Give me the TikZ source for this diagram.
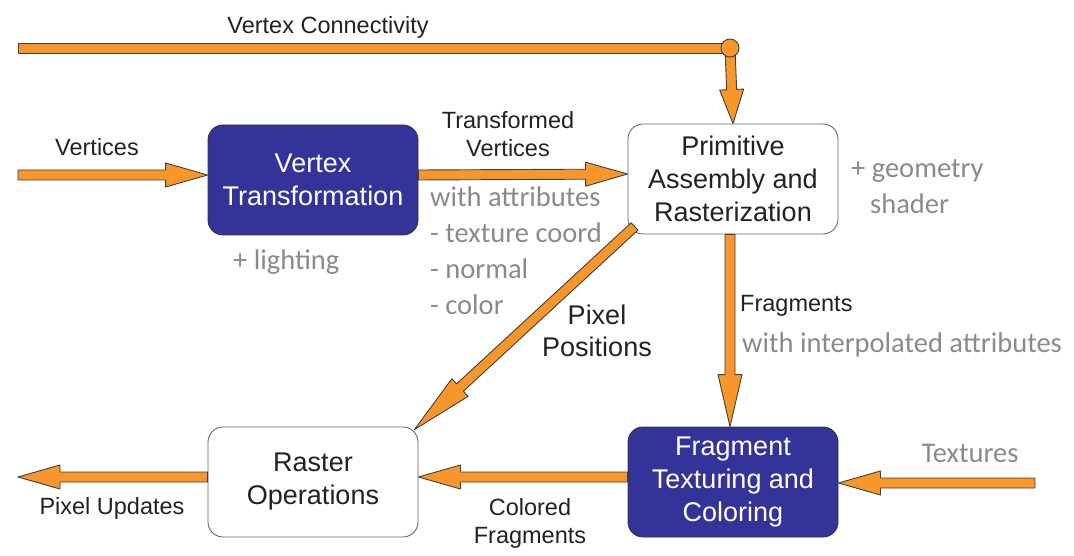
\documentclass[tikz,border=0pt]{standalone}
\usepackage{fontspec}
\setmainfont{Liberation Sans}
\newfontfamily\grayfont{Carlito}
\usetikzlibrary{calc}
\definecolor{arroworange}{HTML}{F7962A}
\definecolor{boxblue}{HTML}{333399}
\definecolor{graytext}{HTML}{8A8A8A}
\definecolor{darktext}{HTML}{222222}
\tikzset{
  blockarrow/.style={draw=black!75, fill=arroworange, line width=0.9pt, line join=round},
  procbox/.style={rounded corners=15pt, minimum width=210pt, minimum height=110pt, align=center, line width=0.9pt, font=\fontsize{27}{33}\selectfont},
  bluebox/.style={procbox, draw=black!80, fill=boxblue, text=white},
  whitebox/.style={procbox, draw=black!60, fill=white, text=darktext},
  lbl/.style={text=darktext, align=center, inner sep=0pt, font=\fontsize{23.5}{28}\selectfont},
  biglbl/.style={text=darktext, align=center, inner sep=0pt, font=\fontsize{27}{32}\selectfont},
  glbl/.style={text=graytext, align=left, inner sep=0pt, font=\grayfont\fontsize{28.5}{36}\selectfont},
}
% block arrow: #1 start, #2 end, #3 head length
\newcommand\barrow[3]{%
  \coordinate (bA) at (#1);
  \coordinate (bB) at (#2);
  \coordinate (bH) at ($(bB)!#3!(bA)$);
  \draw[blockarrow] ($(bA)!5pt!90:(bB)$) -- ($(bH)!5pt!-90:(bA)$) -- ($(bH)!12pt!-90:(bA)$) -- (bB)
     -- ($(bH)!12pt!90:(bA)$) -- ($(bH)!5pt!90:(bA)$) -- ($(bA)!5pt!-90:(bB)$) -- cycle;
}
\begin{document}
\begin{tikzpicture}[x=1pt,y=-1pt]
\useasboundingbox[fill=white] (0,0) rectangle (1074,556);

% boxes
\node[bluebox]  (vt)     at (313,180) {Vertex\\Transformation};
\node[whitebox] (prim)   at (733,179) {Primitive\\Assembly and\\Rasterization};
\node[whitebox] (raster) at (313,482) {Raster\\Operations};
\node[bluebox]  (frag)   at (733,482) {Fragment\\Texturing and\\Coloring};

% free ends
\coordinate (vcstart) at (18,48);
\coordinate (vstart) at (18,175);
\coordinate (puend) at (18,477);
\coordinate (texstart) at (1035,483);

% vertex connectivity bar and junction
\node[circle, minimum size=18pt, inner sep=0pt] (junc) at (730,48) {};
\draw[blockarrow] ($(vcstart)+(0,-5)$) rectangle ($(junc.center)+(0,5)$);
\barrow{junc.center}{prim.north}{34pt}
\node[circle, draw=black!75, fill=arroworange, line width=0.9pt, minimum size=18pt, inner sep=0pt] at (junc) {};

% arrows
\barrow{vstart}{vt.west|-vstart}{42pt}
\barrow{[yshift=5pt]vt.east}{[yshift=5pt]prim.west}{42pt}
\barrow{[xshift=7pt,yshift=8pt]prim.south west}{[xshift=-4pt,yshift=-3pt]raster.north east}{62pt}
\barrow{prim.south-|730,0}{frag.north-|730,0}{52pt}
\barrow{[yshift=5pt]frag.west}{[yshift=5pt]raster.east}{42pt}
\barrow{[yshift=5pt]raster.west}{puend}{42pt}
\barrow{texstart}{frag.east|-texstart}{42pt}

% labels
\node[lbl] (lvc) at (328,27) {Vertex Connectivity};
\node[lbl] (lv) at (97,147) {Vertices};
\node[lbl] (ltv) at (508,134) {Transformed\\Vertices};
\node[glbl, anchor=north west] (lattr) at (430,187) {with attributes\\- texture coord\\- normal\\- color};
\node[glbl, anchor=west] (llight) at (233,262) {+ lighting};
\node[glbl, anchor=north west] (lgeo) at (851,159) {+ geometry\\\hspace*{19pt}shader};
\node[biglbl] (lpp) at (597,331) {Pixel\\Positions};
\node[lbl, anchor=west] (lfr) at (740,306) {Fragments};
\node[glbl, anchor=west] (linterp) at (742,345) {with interpolated attributes};
\node[glbl, anchor=center] (ltex) at (970,453) {Textures};
\node[lbl] (lpu) at (112,508) {Pixel Updates};
\node[lbl] (lcf) at (530,523) {Colored\\Fragments};
\end{tikzpicture}
\end{document}
